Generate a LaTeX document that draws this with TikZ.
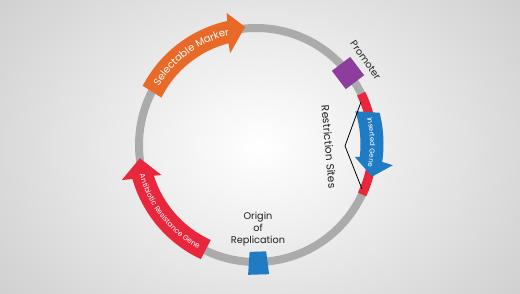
\documentclass[tikz,border=0pt]{standalone}
\usepackage{fontspec}
\setmainfont{Poppins}
\usetikzlibrary{decorations.text}
\definecolor{bgout}{HTML}{CFCFCF}
\definecolor{ringgray}{HTML}{ABABAB}
\definecolor{mkorange}{HTML}{E96A28}
\definecolor{prpurple}{HTML}{8C3D9E}
\definecolor{sitered}{HTML}{E8273D}
\definecolor{geneblue}{HTML}{1F7BC3}
\definecolor{labelink}{HTML}{1E1E1E}
\tikzset{
  labeltext/.style={text=labelink, inner sep=0pt},
  arctext/.style={decorate, decoration={text along path, text align=center, text={#1}}}
}
\begin{document}
\begin{tikzpicture}[x=1pt,y=1pt]
\useasboundingbox (0,0) rectangle (520,293);
\begin{scope}
  \clip (0,0) rectangle (520,293);
  \shade[inner color=white, outer color=bgout] (-70,-110) rectangle (590,403);
\end{scope}
% ring
\begin{scope}[shift={(256,148)}]
  \draw[ringgray, line width=8pt] (0,0) circle[radius=117pt];
  \draw[sitered, line width=9pt] (26:117pt) arc[start angle=26, end angle=-25, radius=117pt];
\end{scope}
\begin{scope}[shift={(254.5,149)}]
  % selectable marker arrow
  \fill[mkorange] (153.5:104pt) arc[start angle=153.5, end angle=104.5, radius=104pt]
     -- (105:94pt) -- (94.6:117.5pt) -- (102:134pt) -- (102.5:126pt)
     arc[start angle=102.5, end angle=152.5, radius=126pt] -- cycle;
  \path[arctext={|\color{white}\fontsize{10}{12}\selectfont|Selectable Marker}]
     (160:111.5pt) arc[start angle=160, end angle=92, radius=111.5pt];
  % inserted gene arrow
  \fill[geneblue] (18:106pt) arc[start angle=18, end angle=-7, radius=106pt]
     -- (-7.3:101pt) -- (-15.5:122pt) -- (-8.7:140pt) -- (-8:129pt)
     arc[start angle=-8, end angle=14, radius=129pt] -- cycle;
  \path[arctext={|\color{white}\fontsize{7}{9}\selectfont|Inserted Gene}]
     (22:115.5pt) arc[start angle=22, end angle=-20.5, radius=115.5pt];
  % antibiotic resistance arrow
  \fill[sitered] (245.5:105.5pt) arc[start angle=245.5, end angle=197.5, radius=105.5pt]
     -- (198.5:98pt) -- (187.1:115.5pt) -- (195.2:137.5pt) -- (196:127pt)
     arc[start angle=196, end angle=245, radius=127pt] -- cycle;
  \path[arctext={|\color{white}\fontsize{7.3}{9}\selectfont|Antibiotic Resistance Gene}]
     (188:119pt) arc[start angle=188, end angle=249, radius=119pt];
  % promoter
  \node[fill=prpurple, minimum size=23pt, inner sep=0pt, rotate=37.2] (promoterbox) at (37.2:117.4pt) {};
  % origin block
  \fill[geneblue] (-92.6:108pt) -- (-83.8:108pt) -- (-83.6:131pt) -- (-92.8:131pt) -- cycle;
\end{scope}
% restriction site lines
\coordinate (rsTop) at (361,191);
\coordinate (rsApex) at (345,147);
\coordinate (rsBot) at (362,104);
\draw[black, line width=0.8pt] (rsTop) -- (rsApex) -- (rsBot);
% labels
\node[labeltext, rotate=-85, font=\fontsize{10.6}{12}\selectfont] (rslabel) at (329,146) {Restriction Sites};
\node[labeltext, rotate=-55, font=\fontsize{9.7}{12}\selectfont] (promlabel) at (365.5,233) {Promoter};
\node[labeltext, align=center, font=\fontsize{9.7}{12}\selectfont] (orilabel) at (258,64) {Origin\\of\\Replication};
\end{tikzpicture}
\end{document}
